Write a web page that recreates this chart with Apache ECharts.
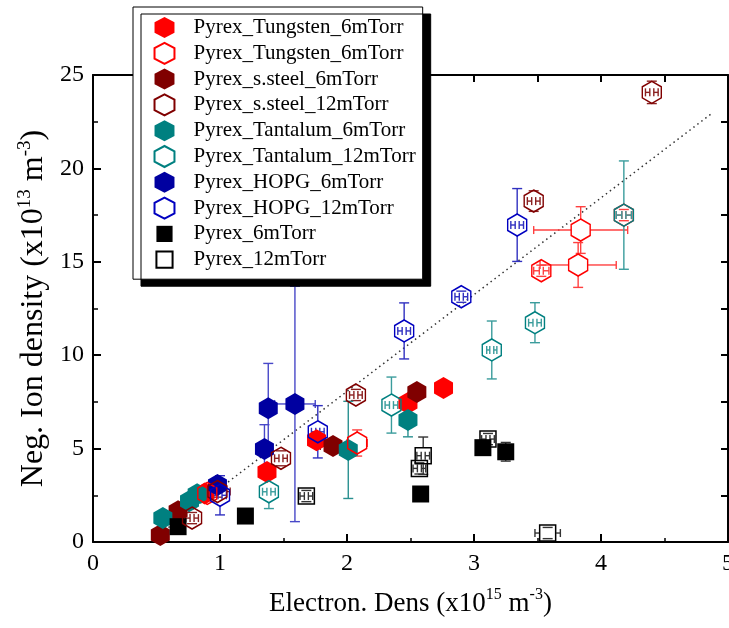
<!DOCTYPE html>
<html><head><meta charset="utf-8">
<script src="https://cdn.jsdelivr.net/npm/echarts@6/dist/echarts.min.js"></script>
<style>html,body{margin:0;padding:0;background:#fff}#chart{width:729px;height:628px}</style>
</head><body><div id="chart"></div>
<script>
// each point: [electron density, neg. ion density, xErr, yErr]
const tungsten6 = [[0.88, 2.6, 0, 0], [1.37, 3.75, 0, 0.3], [1.76, 5.45, 0, 0], [2.48, 7.44, 0, 0], [2.76, 8.24, 0, 0]];
const tungsten12 = [[0.9, 2.6, 0.08, 0.3], [2.08, 5.3, 0.08, 0.7], [3.53, 14.52, 0.06, 0.3], [3.84, 16.7, 0.37, 1.25], [3.82, 14.83, 0.3, 1.2], [4.18, 17.5, 0.06, 0.3]];
const steel6 = [[0.53, 0.37, 0, 0], [0.67, 1.65, 0, 0], [1.89, 5.14, 0.1, 0], [2.55, 8.03, 0, 0]];
const steel12 = [[0.78, 1.28, 0.05, 0.3], [0.98, 2.7, 0.1, 0.3], [1.48, 4.48, 0.05, 0.4], [2.07, 7.87, 0.05, 0.3], [3.47, 18.25, 0.05, 0.55], [4.40, 24.07, 0.05, 0.6]];
const tantalum6 = [[0.55, 1.28, 0, 0], [0.76, 2.2, 0, 0], [0.82, 2.55, 0, 0], [2.01, 4.93, 0, 2.6], [2.48, 6.53, 0, 0.9]];
const tantalum12 = [[1.385, 2.69, 0.05, 0.9], [2.35, 7.33, 0.05, 1.5], [3.14, 10.28, 0.04, 1.55], [3.48, 11.74, 0.05, 1.07], [4.18, 17.5, 0.06, 2.9]];
const hopg6 = [[0.98, 3.05, 0.03, 0.3], [1.35, 4.98, 0, 1.3], [1.38, 7.16, 0, 2.4], [1.59, 7.39, 0.16, 6.3]];
const hopg12 = [[1.0, 2.5, 0.05, 1.05], [1.77, 5.9, 0.05, 1.4], [2.45, 11.3, 0.05, 1.5], [2.9, 13.13, 0.05, 0.3], [3.34, 16.97, 0.05, 1.95]];
const pyrex6 = [[0.67, 0.82, 0, 0], [1.2, 1.39, 0, 0], [2.58, 2.57, 0, 0], [3.07, 5.05, 0, 0], [3.25, 4.83, 0, 0.5]];
const pyrex12 = [[1.68, 2.46, 0.05, 0.3], [2.57, 3.94, 0.05, 0.3], [2.6, 4.62, 0.05, 1.0], [3.11, 5.51, 0.05, 0.3], [3.58, 0.48, 0.1, 0.3]];
const fitLine = [[0.5, 0.29], [4.87, 22.93]];

const seriesNames = ['Pyrex_Tungsten_6mTorr', 'Pyrex_Tungsten_12mTorr', 'Pyrex_s.steel_6mTorr', 'Pyrex_s.steel_12mTorr',
  'Pyrex_Tantalum_6mTorr', 'Pyrex_Tantalum_12mTorr', 'Pyrex_HOPG_6mTorr', 'Pyrex_HOPG_12mTorr', 'Pyrex_6mTorr', 'Pyrex_12mTorr'];
const legendLabels = ['Pyrex_Tungsten_6mTorr', 'Pyrex_Tungsten_6mTorr', 'Pyrex_s.steel_6mTorr', 'Pyrex_s.steel_12mTorr',
  'Pyrex_Tantalum_6mTorr', 'Pyrex_Tantalum_12mTorr', 'Pyrex_HOPG_6mTorr', 'Pyrex_HOPG_12mTorr', 'Pyrex_6mTorr', 'Pyrex_12mTorr'];
const xTicks = [0, 1, 2, 3, 4, 5];
const yTicks = [0, 5, 10, 15, 20, 25];

const HEX = 'path://M0,-1 L0.866,-0.5 L0.866,0.5 L0,1 L-0.866,0.5 L-0.866,-0.5 Z';
const HEX_ICON = 'path://M0,-1 L0.95,-0.5 L0.95,0.5 L0,1 L-0.95,0.5 L-0.95,-0.5 Z';
const SQ_ICON = 'path://M-0.15,-0.15 M1.15,1.15 M0,0 L1,0 L1,1 L0,1 Z';
const FONT = 'Liberation Serif';

const groups = [
  {data: tungsten6, color: '#ff0000', err: '#ff4040', open: false, sym: HEX},
  {data: tungsten12, color: '#ff0000', err: '#ff4040', open: true, sym: HEX},
  {data: steel6, color: '#800000', err: '#8a2020', open: false, sym: HEX},
  {data: steel12, color: '#800000', err: '#8a2020', open: true, sym: HEX},
  {data: tantalum6, color: '#008080', err: '#2a9090', open: false, sym: HEX},
  {data: tantalum12, color: '#008080', err: '#3a9c9c', open: true, sym: HEX},
  {data: hopg6, color: '#0000a0', err: '#4848c8', open: false, sym: HEX},
  {data: hopg12, color: '#0000c0', err: '#3030c0', open: true, sym: HEX},
  {data: pyrex6, color: '#000000', err: '#333333', open: false, sym: 'rect'},
  {data: pyrex12, color: '#000000', err: '#333333', open: true, sym: 'rect'}
];

function seg(x1, y1, x2, y2, color) {
  return {type: 'line', shape: {x1: x1, y1: y1, x2: x2, y2: y2}, style: {stroke: color, lineWidth: 1.4}};
}

function errSeries(g, i) {
  const isHex = g.sym === HEX;
  const hh = isHex ? 11 : 8.5, hw = isHex ? 9.5 : 8.5;
  return {
    type: 'custom', name: 'err' + i, data: g.data, z: 2, silent: true,
    dimensions: ['x', 'y', 'ex', 'ey'], encode: {x: 0, y: 1},
    renderItem: function (params, api) {
      const x = api.value(0), y = api.value(1), ex = api.value(2), ey = api.value(3);
      const c = api.coord([x, y]);
      const kids = [];
      const cap = 5;
      if (ey > 0) {
        const t = api.coord([x, y + ey])[1], b = api.coord([x, y - ey])[1];
        const gap = g.open ? hh : 0;
        if (c[1] - t > gap) kids.push(seg(c[0], c[1] - gap, c[0], t, g.err));
        if (b - c[1] > gap) kids.push(seg(c[0], c[1] + gap, c[0], b, g.err));
        kids.push(seg(c[0] - cap, t, c[0] + cap, t, g.err));
        kids.push(seg(c[0] - cap, b, c[0] + cap, b, g.err));
      }
      if (ex > 0) {
        const l = api.coord([x - ex, y])[0], r = api.coord([x + ex, y])[0];
        const d = r - c[0];
        if (g.open && d < hw) {
          kids.push(seg(c[0] + 2, c[1], r, c[1], g.err));
          kids.push(seg(c[0] - 2, c[1], l, c[1], g.err));
          kids.push(seg(c[0] + 2, c[1] - 4, c[0] + 2, c[1] + 4, g.err));
          kids.push(seg(c[0] - 2, c[1] - 4, c[0] - 2, c[1] + 4, g.err));
        } else {
          const gap = g.open ? hw : 0;
          kids.push(seg(c[0] + gap, c[1], r, c[1], g.err));
          kids.push(seg(c[0] - gap, c[1], l, c[1], g.err));
        }
        kids.push(seg(r, c[1] - 4, r, c[1] + 4, g.err));
        kids.push(seg(l, c[1] - 4, l, c[1] + 4, g.err));
      }
      return {type: 'group', children: kids};
    }
  };
}

function markerSeries(g, i) {
  const isHex = g.sym === HEX;
  return {
    type: 'scatter', name: seriesNames[i], data: g.data.map(p => [p[0], p[1]]), z: 3 + (g.open ? 1 : 0),
    symbol: g.sym, symbolSize: isHex ? [19, 22] : (g.open ? 16 : 17),
    itemStyle: g.open ? {color: 'rgba(255,255,255,0)', borderColor: g.color, borderWidth: 1.5, opacity: 1}
                      : {color: g.color, borderWidth: 0, opacity: 1},
    emphasis: {disabled: true}
  };
}

const series = [];
series.push({type: 'line', name: 'fit', data: fitLine, symbol: 'none', z: 1, silent: true,
  lineStyle: {color: '#333', width: 1.5, type: [1.5, 3.5]}});
groups.forEach((g, i) => series.push(errSeries(g, i)));
groups.forEach((g, i) => series.push(markerSeries(g, i)));

const chart = echarts.init(document.getElementById('chart'), null, {renderer: 'canvas'});
chart.setOption({
  animation: false,
  backgroundColor: '#fff',
  grid: {left: 93, right: 1, top: 75, bottom: 86, containLabel: false, outerBoundsMode: 'none'},
  legend: {
    orient: 'vertical', left: 133, top: 7,
    data: seriesNames.map((n, i) => ({name: n, icon: groups[i].sym === HEX ? HEX_ICON : SQ_ICON})),
    formatter: function (name) { return legendLabels[seriesNames.indexOf(name)]; },
    itemWidth: 48, itemHeight: 21, itemGap: 3.8,
    padding: [10, 7, 8, 20],
    backgroundColor: '#fff', borderColor: '#000', borderWidth: 1,
    shadowColor: '#000', shadowBlur: 0, shadowOffsetX: 8, shadowOffsetY: 7,
    textStyle: {fontFamily: FONT, fontSize: 21, color: '#000', lineHeight: 20},
    selectedMode: false
  },
  xAxis: [{
    type: 'value', min: 0, max: 5, interval: 1,
    name: '{t|Electron. Dens (x10}{s|15}{t| m}{s|-3}{t|)}',
    nameLocation: 'middle', nameGap: 45,
    nameTextStyle: {rich: {t: {fontFamily: FONT, fontSize: 27, color: '#000', lineHeight: 34},
                           s: {fontFamily: FONT, fontSize: 16, color: '#000', verticalAlign: 'top', lineHeight: 17}}},
    axisLine: {show: true, onZero: false, lineStyle: {color: '#000', width: 2}},
    axisTick: {show: true, inside: true, length: 8, lineStyle: {color: '#000', width: 2}},
    minorTick: {show: true, splitNumber: 2, length: 4, lineStyle: {color: '#000', width: 1.5}},
    axisLabel: {fontFamily: FONT, fontSize: 24, color: '#000', margin: 10,
      formatter: v => (xTicks.indexOf(v) >= 0 ? String(v) : '')},
    splitLine: {show: false}
  }, {
    type: 'value', min: 0, max: 5, interval: 0.5, position: 'top',
    axisLine: {show: true, onZero: false, lineStyle: {color: '#000', width: 2}},
    axisTick: {show: true, inside: true, length: 7, lineStyle: {color: '#000', width: 2}},
    axisLabel: {show: false}, splitLine: {show: false}
  }],
  yAxis: [{
    type: 'value', min: 0, max: 25, interval: 5,
    name: '{t|Neg. Ion density (x10}{s|13}{t| m}{s|-3}{t|)}',
    nameLocation: 'middle', nameGap: 40, nameRotate: 90,
    nameTextStyle: {rich: {t: {fontFamily: FONT, fontSize: 32, color: '#000', lineHeight: 36},
                           s: {fontFamily: FONT, fontSize: 19, color: '#000', verticalAlign: 'top', lineHeight: 19}}},
    axisLine: {show: true, onZero: false, lineStyle: {color: '#000', width: 2}},
    axisTick: {show: true, inside: true, length: 8, lineStyle: {color: '#000', width: 2}},
    minorTick: {show: true, splitNumber: 2, length: 5, lineStyle: {color: '#000', width: 1.5}},
    axisLabel: {fontFamily: FONT, fontSize: 24, color: '#000', margin: 9,
      formatter: v => (yTicks.indexOf(v) >= 0 ? String(v) : '')},
    splitLine: {show: false}
  }, {
    type: 'value', min: 0, max: 25, interval: 2.5, position: 'right',
    axisLine: {show: true, onZero: false, lineStyle: {color: '#000', width: 2}},
    axisTick: {show: true, inside: true, length: 7, lineStyle: {color: '#000', width: 2}},
    axisLabel: {show: false}, splitLine: {show: false}
  }],
  series: series
});
</script>
</body></html>
